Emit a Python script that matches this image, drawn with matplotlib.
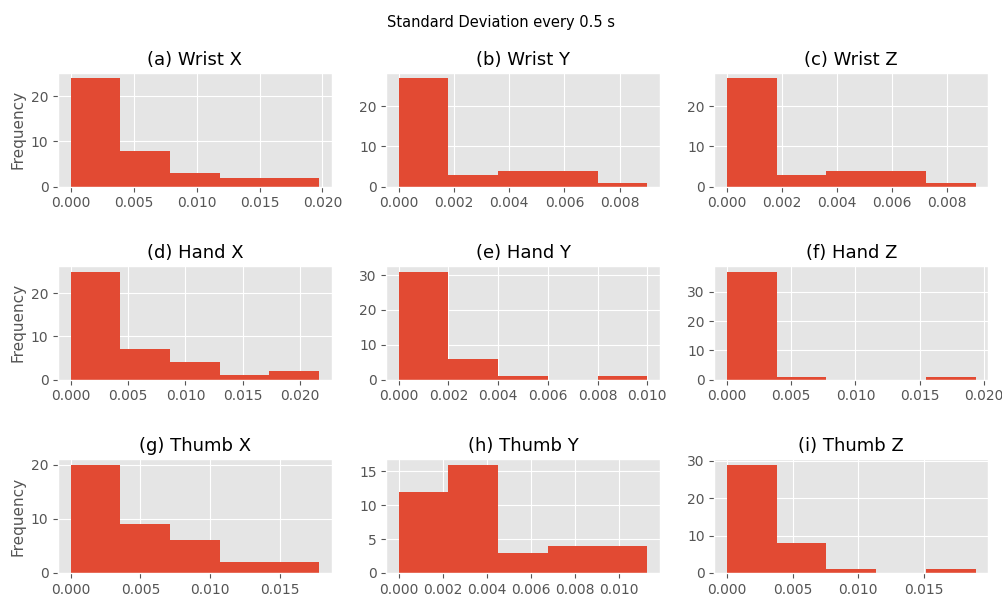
import numpy as np
import matplotlib
matplotlib.use("Agg")
import matplotlib.pyplot as plt
from matplotlib.ticker import MultipleLocator, FormatStrFormatter

plt.style.use("ggplot")

# panel titles, row by row
titles = ["(a) Wrist X", "(b) Wrist Y", "(c) Wrist Z",
          "(d) Hand X", "(e) Hand Y", "(f) Hand Z",
          "(g) Thumb X", "(h) Thumb Y", "(i) Thumb Z"]

# upper end of each histogram range (lower end is 0)
range_max = [0.01974, 0.00900, 0.00903,
             0.02165, 0.01000, 0.01935,
             0.01779, 0.01129, 0.01893]

# counts in the 5 equal-width bins of each panel
counts_wrist_x = [24, 8, 3, 2, 2]
counts_wrist_y = [27, 3, 4, 4, 1]
counts_wrist_z = [27, 3, 4, 4, 1]
counts_hand_x = [25, 7, 4, 1, 2]
counts_hand_y = [31, 6, 1, 0, 1]
counts_hand_z = [37, 1, 0, 0, 1]
counts_thumb_x = [20, 9, 6, 2, 2]
counts_thumb_y = [12, 16, 3, 4, 4]
counts_thumb_z = [29, 8, 1, 0, 1]

all_counts = [counts_wrist_x, counts_wrist_y, counts_wrist_z,
              counts_hand_x, counts_hand_y, counts_hand_z,
              counts_thumb_x, counts_thumb_y, counts_thumb_z]

fig, axes = plt.subplots(3, 3, figsize=(10.03, 5.98), dpi=100)
fig.subplots_adjust(left=0.058, right=0.985, top=0.878, bottom=0.042,
                    wspace=0.2, hspace=0.70)
fig.suptitle("Standard Deviation every 0.5 s", fontsize=10.5, y=0.975)

for i, ax in enumerate(axes.flat):
    edges = np.linspace(0.0, range_max[i], 6)
    ax.hist(edges[:-1], bins=edges, weights=all_counts[i], color="#E24A33")
    ax.set_title(titles[i], fontsize=13)
    ax.tick_params(length=3.5, width=0.8, color="#555555")
    if i % 3 == 0:
        ax.set_ylabel("Frequency", fontsize=11)

# thumb Y uses 0.002 steps on x
axes[2, 1].xaxis.set_major_locator(MultipleLocator(0.002))
axes[2, 1].xaxis.set_major_formatter(FormatStrFormatter("%.3f"))

fig.savefig("out.png", dpi=100)
